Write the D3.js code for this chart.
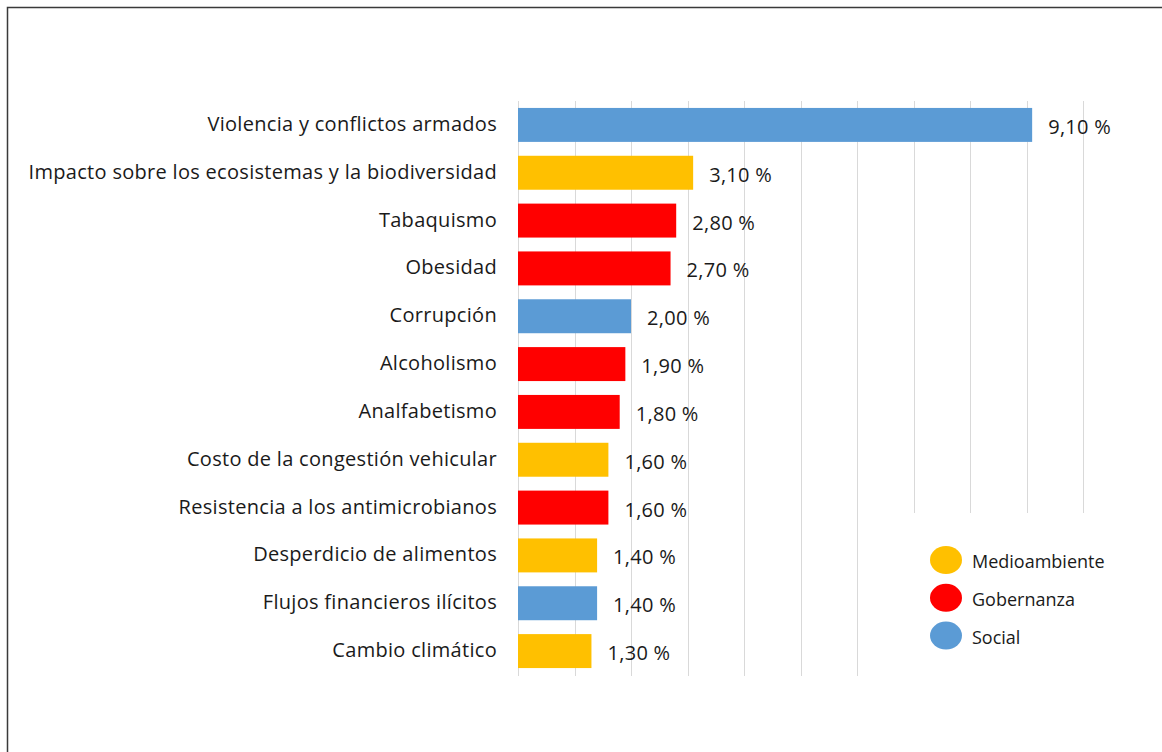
<!DOCTYPE html>
<html><head><meta charset="utf-8">
<script src="https://cdn.jsdelivr.net/npm/d3@7"></script>
<style>
html,body{margin:0;padding:0;background:#fff;}
svg{display:block;}
text{font-family:"Open Sans",Lato,sans-serif;fill:#1a1a1a;}
</style></head>
<body>
<svg id="chart" width="1162" height="752"></svg>
<script>
const categories = [
  "Violencia y conflictos armados",
  "Impacto sobre los ecosistemas y la biodiversidad",
  "Tabaquismo",
  "Obesidad",
  "Corrupción",
  "Alcoholismo",
  "Analfabetismo",
  "Costo de la congestión vehicular",
  "Resistencia a los antimicrobianos",
  "Desperdicio de alimentos",
  "Flujos financieros ilícitos",
  "Cambio climático"
];
const values = [9.1, 3.1, 2.8, 2.7, 2.0, 1.9, 1.8, 1.6, 1.6, 1.4, 1.4, 1.3];
const groups = ["Social","Medioambiente","Gobernanza","Gobernanza","Social","Gobernanza","Gobernanza","Medioambiente","Gobernanza","Medioambiente","Social","Medioambiente"];
const legendItems = ["Medioambiente","Gobernanza","Social"];
const legendColors = ["#FFC000","#FF0000","#5B9BD5"];
const xTicks = [0,1,2,3,4,5,6,7,8,9,10];

const svg = d3.select("#chart");
// outer frame
svg.append("rect").attr("x",7.5).attr("y",7.5).attr("width",1170).attr("height",760)
  .attr("fill","none").attr("stroke","#3a3a3a").attr("stroke-width",1.5);

const pL = 518, pR = 1083, pT = 101, pB = 675;
const x = d3.scaleLinear().domain([0,10]).range([pL,pR]);
const y = d3.scaleBand().domain(categories).range([pT,pB]).paddingInner(0.29).paddingOuter(0.145);
const color = d3.scaleOrdinal().domain(legendItems).range(legendColors);

// gridlines
svg.append("g").selectAll("line").data(xTicks).join("line")
  .attr("x1",d=>Math.round(x(d))+0.5).attr("x2",d=>Math.round(x(d))+0.5)
  .attr("y1",pT).attr("y2",pB+1)
  .attr("stroke","#d9d9d9").attr("stroke-width",1);

// bars
svg.append("g").selectAll("rect").data(categories).join("rect")
  .attr("x",x(0)).attr("y",d=>y(d))
  .attr("width",(d,i)=>x(values[i])-x(0)).attr("height",y.bandwidth())
  .attr("fill",(d,i)=>color(groups[i]));

// category labels
svg.append("g").selectAll("text").data(categories).join("text")
  .attr("x",pL-21).attr("y",d=>y(d)+y.bandwidth()/2-1)
  .attr("dy","0.35em").attr("text-anchor","end")
  .style("font-size","20px").style("letter-spacing","0.3px").text(d=>d);

// value labels
const fmt = v => v.toFixed(2).replace(".",",") + " %";
svg.append("g").selectAll("text").data(categories).join("text")
  .attr("x",(d,i)=>x(values[i])+16).attr("y",d=>y(d)+y.bandwidth()/2+2)
  .attr("dy","0.35em")
  .style("font-size","20px").style("letter-spacing","0.3px").text((d,i)=>fmt(values[i]));

// legend
const lg = svg.append("g");
lg.append("rect").attr("x",890).attr("y",513).attr("width",200).attr("height",173).attr("fill","#fff");
const li = lg.selectAll("g").data(legendItems).join("g")
  .attr("transform",(d,i)=>`translate(946,${560+i*37.8})`);
li.append("ellipse").attr("rx",16).attr("ry",14).attr("fill",(d,i)=>legendColors[i]);
li.append("text").attr("x",26).attr("y",2).attr("dy","0.35em").style("font-size","18px").text(d=>d);
</script>
</body></html>
